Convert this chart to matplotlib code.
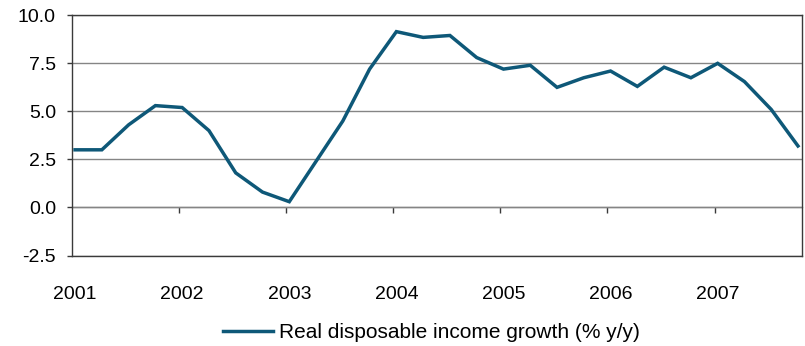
import matplotlib
matplotlib.use("Agg")
import matplotlib.pyplot as plt

plt.rcParams['font.family'] = ['Liberation Sans', 'DejaVu Sans']

# Quarterly real disposable income growth, 2001Q1 - 2007Q4 (% y/y)
years = ['2001', '2002', '2003', '2004', '2005', '2006', '2007']
growth = [3.0, 3.0, 4.3, 5.3, 5.2, 4.0, 1.8, 0.8,
          0.3, 2.4, 4.5, 7.2, 9.15, 8.85, 8.95, 7.8,
          7.2, 7.4, 6.25, 6.75, 7.1, 6.3, 7.3, 6.75,
          7.5, 6.55, 5.1, 3.2]
series_label = 'Real disposable income growth (% y/y)'
yticks = [-2.5, 0.0, 2.5, 5.0, 7.5, 10.0]

line_color = '#0E5878'
frame_color = '#3A3A3A'
grid_color = '#858585'

fig = plt.figure(figsize=(8.05, 3.46), dpi=100)
ax = fig.add_axes([72 / 805, 1 - 255.5 / 346, 730 / 805, 240.2 / 346])

q = list(range(len(growth)))
line, = ax.plot(q, growth, color=line_color, linewidth=2.5,
                solid_joinstyle='miter', zorder=3, label=series_label)

# year boundaries sit just before each Q1 observation
edge = 0.115
ax.set_xlim(-edge, len(growth) - 1 + 0.15)
ax.set_ylim(yticks[0], yticks[-1])

ax.set_yticks(yticks)
ax.set_yticklabels([f'{v:.1f}' for v in yticks])
ax.yaxis.grid(True, color=grid_color, linewidth=1.0)
ax.set_axisbelow(True)

# year labels centred under the first quarter of each year
ax.set_xticks([4 * i for i in range(len(years))])
ax.set_xticklabels(years)
ax.tick_params(axis='x', length=0, pad=22, labelsize=14)
ax.tick_params(axis='y', length=3.6, width=1.0, color=frame_color,
               pad=8, labelsize=14)

for s in ax.spines.values():
    s.set_color(frame_color)
    s.set_linewidth(1.0)

# tick marks on the zero line at the year boundaries
zero_frac = (0 - yticks[0]) / (yticks[-1] - yticks[0])
sec = ax.secondary_xaxis(zero_frac)
sec.set_xticks([4 * i - edge for i in range(1, len(years))])
sec.set_xticklabels([])
sec.tick_params(axis='x', length=4.2, width=1.0, color=frame_color)
sec.spines['bottom'].set_color(grid_color)
sec.spines['bottom'].set_linewidth(1.0)

fig.legend(handles=[line], loc='center',
           bbox_to_anchor=(431.5 / 805, 1 - 332.7 / 346),
           frameon=False, fontsize=15, handlelength=2.4,
           handletextpad=0.3, borderpad=0, borderaxespad=0)

fig.savefig('out.png', dpi=100)
